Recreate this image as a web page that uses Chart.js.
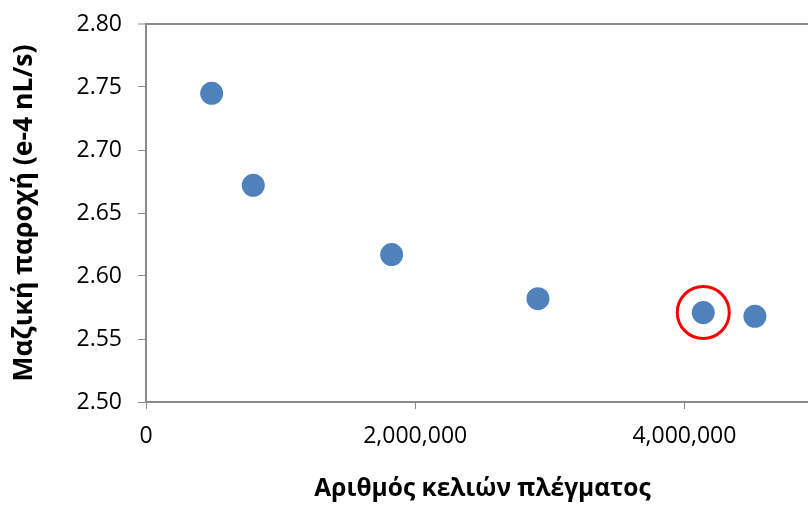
<!DOCTYPE html>
<html lang="el">
<head>
    <meta charset="UTF-8">
    <title>Μαζική παροχή - ανεξαρτησία πλέγματος</title>
    <script src="https://cdn.jsdelivr.net/npm/chart.js@4.4.1/dist/chart.umd.min.js"></script>
    <style>
        body {
            margin: 0;
            background-color: #ffffff;
            overflow: hidden;
        }
        #meshChart {
            display: block;
        }
    </style>
</head>
<body>
    <canvas id="meshChart" width="830" height="507"></canvas>

    <script>
        // Values
        const cellCounts = [488000, 797000, 1825000, 2912000, 4140000, 4524000];
        const massFlow = [2.745, 2.672, 2.617, 2.582, 2.571, 2.568];
        const selectedIndex = 4; // circled mesh

        const xTickValues = [0, 2000000, 4000000];
        const xTitle = 'Αριθμός κελιών πλέγματος';
        const yTitle = 'Μαζική παροχή (e-4 nL/s)';
        const xMin = 0, xMax = 5000000;
        const yMin = 2.5, yMax = 2.8, yStep = 0.05;

        const axisGray = '#8a8a8a';
        const tickFont = { family: '"Open Sans", sans-serif', size: 23 };
        const xTitleFont = { family: '"Open Sans", sans-serif', size: 24.5, weight: 'bold' };
        const yTitleFont = { family: '"Open Sans", sans-serif', size: 26.5, weight: 'bold' };

        const points = cellCounts.map((c, i) => ({ x: c, y: massFlow[i] }));
        const isTop = c => c.tick && Math.abs(c.tick.value - yMax) < 1e-9;

        new Chart(document.getElementById('meshChart'), {
            type: 'scatter',
            data: {
                datasets: [
                    {
                        data: [points[selectedIndex]],
                        pointRadius: 26,
                        pointHoverRadius: 26,
                        pointBackgroundColor: 'rgba(0,0,0,0)',
                        pointBorderColor: '#ff0000',
                        pointBorderWidth: 3
                    },
                    {
                        data: points,
                        pointRadius: 11.5,
                        pointHoverRadius: 11.5,
                        pointBackgroundColor: '#4f81bd',
                        pointBorderColor: '#4f81bd',
                        pointBorderWidth: 0
                    }
                ]
            },
            options: {
                responsive: false,
                animation: false,
                layout: {
                    autoPadding: false,
                    padding: { top: 24, right: 11, bottom: 0, left: 0 }
                },
                plugins: {
                    legend: { display: false },
                    tooltip: { enabled: false }
                },
                scales: {
                    x: {
                        type: 'linear',
                        min: xMin,
                        max: xMax,
                        afterBuildTicks: s => { s.ticks = xTickValues.map(v => ({ value: v })); },
                        afterFit: s => {
                            s.height = 105;
                            s.paddingLeft = 0;
                            s.paddingRight = 0;
                        },
                        border: { color: axisGray, width: 2 },
                        grid: {
                            drawOnChartArea: false,
                            tickLength: 7,
                            tickColor: axisGray,
                            tickWidth: 1
                        },
                        ticks: {
                            color: '#000',
                            font: tickFont,
                            padding: 14,
                            maxRotation: 0,
                            autoSkip: false,
                            callback: v => v.toLocaleString('en-US')
                        },
                        title: {
                            display: true,
                            text: xTitle,
                            color: '#000',
                            font: xTitleFont,
                            padding: { top: 0, bottom: 3 }
                        }
                    },
                    y: {
                        type: 'linear',
                        min: yMin,
                        max: yMax,
                        afterFit: s => {
                            s.width = 146;
                            // keep the tick label overhang from pushing the plot area down
                            s.paddingTop = 0;
                            s.paddingBottom = 0;
                        },
                        border: { color: axisGray, width: 2 },
                        grid: {
                            color: c => isTop(c) ? axisGray : 'rgba(0,0,0,0)',
                            lineWidth: c => isTop(c) ? 2 : 1,
                            tickLength: 8,
                            tickColor: axisGray,
                            tickWidth: 1
                        },
                        ticks: {
                            stepSize: yStep,
                            color: '#000',
                            font: tickFont,
                            padding: 16,
                            callback: v => v.toFixed(2)
                        },
                        title: {
                            display: true,
                            text: yTitle,
                            color: '#000',
                            font: yTitleFont,
                            padding: { top: 9, bottom: 0 }
                        }
                    }
                }
            }
        });
    </script>
</body>
</html>
